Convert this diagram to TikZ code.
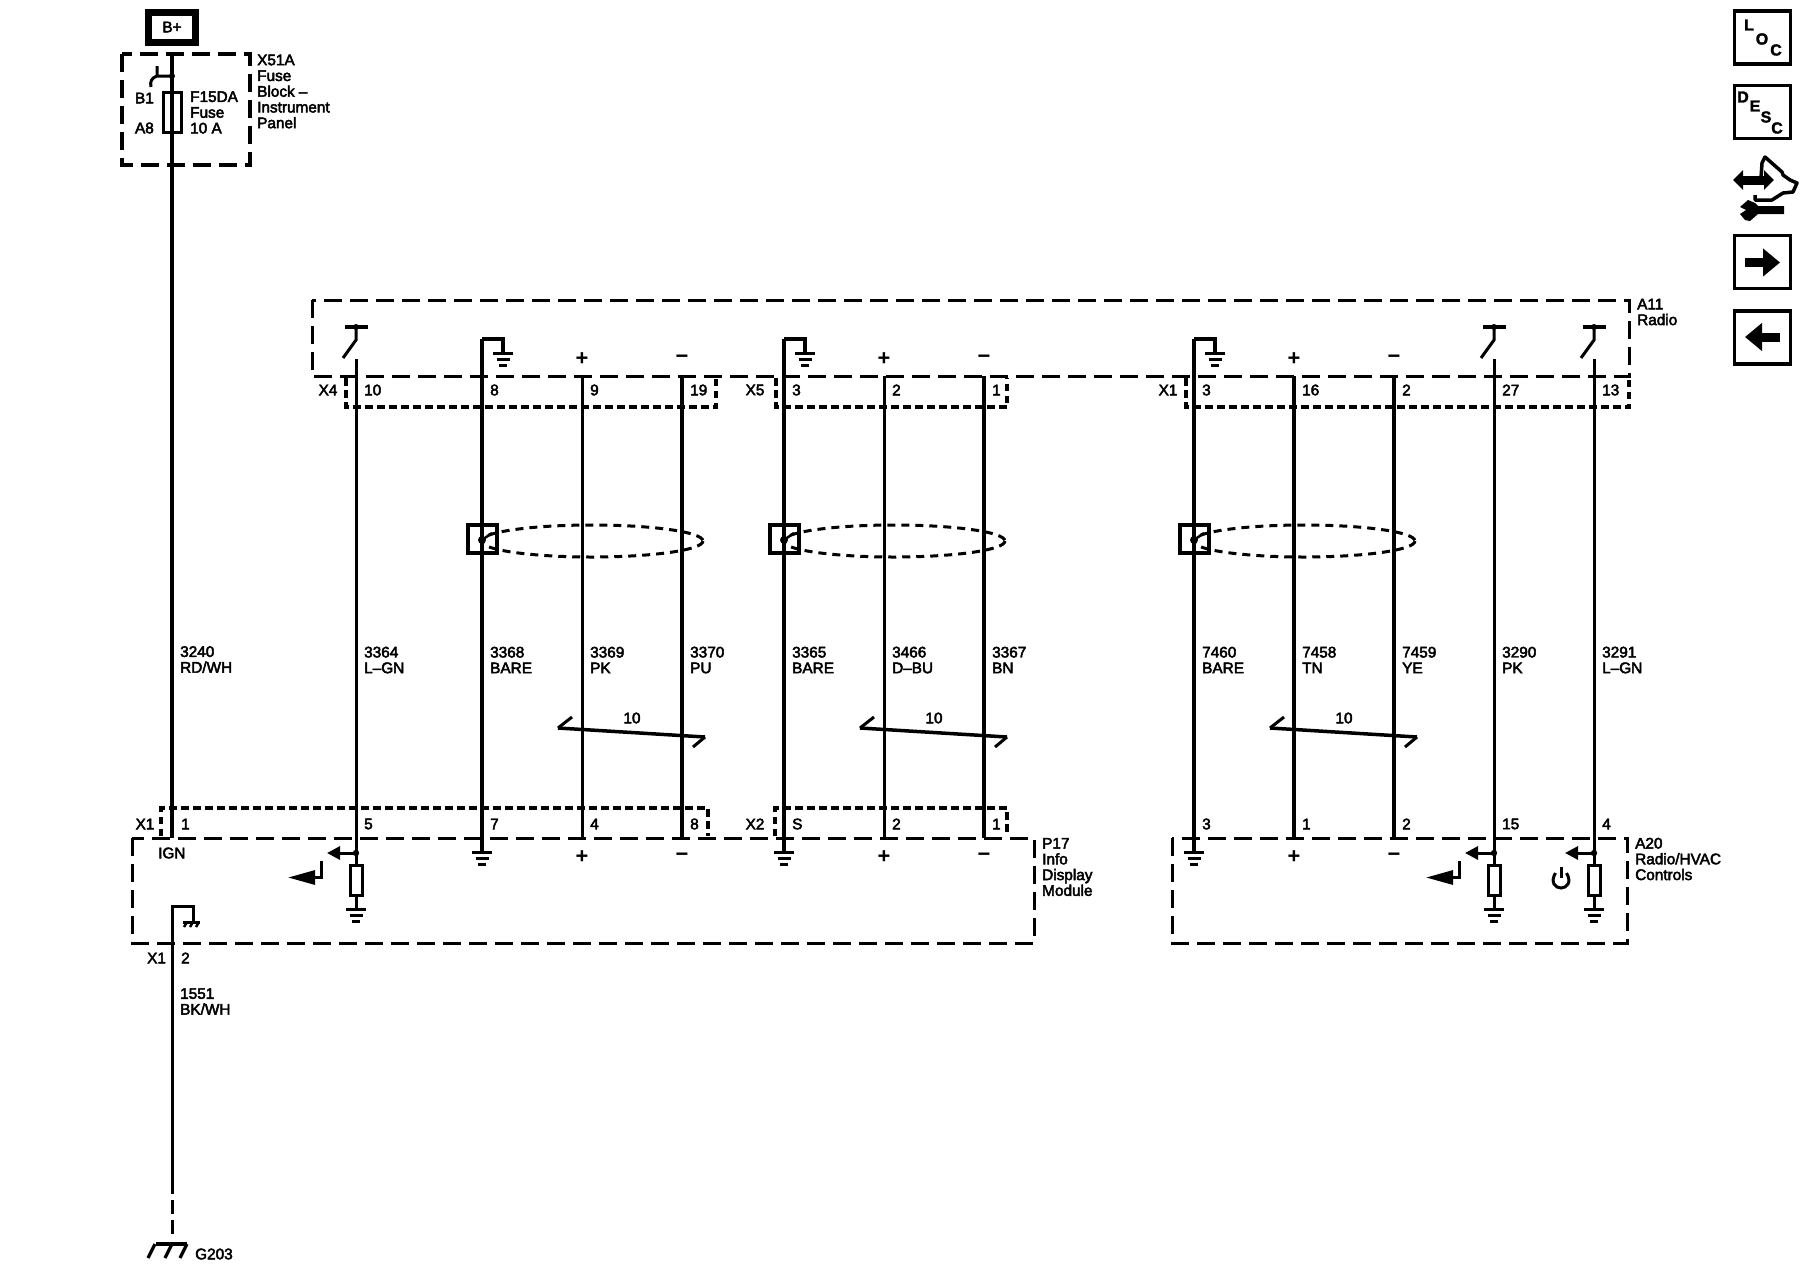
\documentclass[tikz,border=0pt]{standalone}
\usepackage{fontspec}
\setmainfont{Liberation Sans}
\newfontfamily\wirefont{Liberation Sans}[FakeBold=3]
\newfontfamily\iconfont{Liberation Sans Bold}[FakeBold=2]
\usetikzlibrary{arrows.meta}
\tikzset{
  txt/.style={inner sep=0pt,anchor=west,align=left,font={\wirefont\fontsize{15.4}{15.8}\selectfont}},
  signtxt/.style={inner sep=0pt,font={\bfseries\fontsize{22}{22}\selectfont}},
  icontxt/.style={inner sep=0pt,font={\iconfont\fontsize{16}{16}\selectfont}},
  modbox/.style={line width=3bp,dash pattern=on 18bp off 8bp},
  dotbox/.style={line width=4bp,dash pattern=on 7.5bp off 4.5bp},
  shieldline/.style={line width=3bp,dash pattern=on 8bp off 6bp},
  iconbox/.style={draw,line width=3.5bp,minimum width=56bp,minimum height=53bp,inner sep=0pt},
  resbox/.style={draw,line width=3bp,fill=white,minimum width=12bp,minimum height=30bp,inner sep=0pt},
  gndline/.style={line width=3bp},
  sigarrow/.style={line width=3bp,-{Triangle[length=13bp,width=13bp]}},
  retarrow/.style={line width=3bp,-{Triangle[length=27bp,width=14bp]}},
  gnd/.pic={
    \draw[gndline] (-10,0) -- (10,0);
    \draw[gndline] (-6.5,6.5) -- (6.5,6.5);
    \draw[gndline] (-4,12.5) -- (4,12.5);
  }
}
\begin{document}
\begin{tikzpicture}[x=1bp,y=-1bp]
\useasboundingbox (0,0) rectangle (1800,1280);
%
% B+ and fuse block
\node[draw,line width=7bp,minimum width=47bp,minimum height=30bp,inner sep=0pt,txt,anchor=center] (bplus) at (172,27) {B+};
\draw[modbox,line width=3.5bp] (122,54) rectangle (250,165);
\coordinate (fusetop) at (172,54);
\coordinate (ign) at (172,838);
\draw[line width=4bp] (fusetop) -- (ign);
\node[draw,line width=3bp,minimum width=18bp,minimum height=40bp,inner sep=0pt] (f15da) at (172,112) {};
\fill (172,76) circle (3);
\draw[line width=3bp] (172,76) -- (157,76) (157,66) -- (157,76) .. controls (151,78) and (150,82) .. (151,87);
\node[txt,anchor=east] (b1) at (154,98) {B1};
\node[txt,anchor=east] (a8) at (154,128) {A8};
\node[txt] (fusetxt) at (190,112.5) {F15DA\\Fuse\\10 A};
\node[txt] (x51a) at (257,91.5) {X51A\\Fuse\\Block –\\Instrument\\Panel};
\node[txt] (lab3240) at (180,659.5) {3240\\RD/WH};

% modules
\draw[modbox] (312,300) rectangle (1629,376);
\node[txt] (a11) at (1637,312) {A11\\Radio};
\draw[modbox] (132,838) rectangle (1034,943);
\node[txt] (p17) at (1042,867) {P17\\Info\\Display\\Module};
\draw[modbox] (1172,838) rectangle (1627,943);
\node[txt] (a20) at (1635,859) {A20\\Radio/HVAC\\Controls};

% connectors
\draw[dotbox] (346,378) -- (346,407) -- (716,407) -- (716,378);
\draw[dotbox] (776,378) -- (776,407) -- (1007,407) -- (1007,378);
\draw[dotbox] (1186,378) -- (1186,407) -- (1629,407) -- (1629,378);
\draw[dotbox] (161,836) -- (161,808) -- (708,808) -- (708,836);
\draw[dotbox] (775,836) -- (775,808) -- (1007,808) -- (1007,836);
\node[txt,anchor=center] (x4) at (328,390) {X4};
\node[txt,anchor=center] (x5) at (755,390) {X5};
\node[txt,anchor=center] (x1t) at (1168,390) {X1};
\node[txt,anchor=center] (x1b) at (145,824) {X1};
\node[txt,anchor=center] (x2) at (755,824) {X2};
\node[txt] (pin1) at (181,824) {1};
\node[txt] (ignlab) at (158,853) {IGN};

% wires
\foreach \code/\x/\ya/\yb/\lw/\col/\pa/\pb in {
  3364/356/359/865/3/L–GN/10/5,
  3368/482/339/852/4/BARE/8/7,
  3369/582/376/838/3/PK/9/4,
  3370/682/376/838/4/PU/19/8,
  3365/784/339/852/4/BARE/3/S,
  3466/884/376/838/3/D–BU/2/2,
  3367/984/376/838/4/BN/1/1,
  7460/1194/339/852/4/BARE/3/3,
  7458/1294/376/838/4/TN/16/1,
  7459/1394/376/838/4/YE/2/2,
  3290/1494/359/865/3/PK/27/15,
  3291/1594/359/865/3/L–GN/13/4} {
\coordinate (t\code) at (\x,\ya);
\coordinate (b\code) at (\x,\yb);
\draw[line width=\lw bp] (t\code) -- (b\code);
\node[txt] (lab\code) at (\x+8,660) {\code\\\col};
\node[txt] (pa\code) at (\x+8,390) {\pa};
\node[txt] (pb\code) at (\x+8,824) {\pb};
}

% shields
\foreach \dx in {0,302,712} {
\draw[line width=3.5bp] (468+\dx,525) rectangle (497+\dx,553);
\fill (482+\dx,540) circle (4);
\draw[line width=2.5bp] (482+\dx,540) -- (492+\dx,533);
\draw[shieldline] (592+\dx,541) ellipse [x radius=111,y radius=16];
\draw[line width=3.5bp] (558+\dx,728) -- (705+\dx,737);
\draw[line width=3bp] (558+\dx,728) -- (572+\dx,717);
\draw[line width=3bp] (705+\dx,737) -- (693+\dx,747);
\node[txt,anchor=center] (twist\dx) at (632+\dx,718) {10};
}

% grounded drains
\foreach \w/\x in {3368/482,3365/784,7460/1194} {
\draw[line width=3.5bp] (t\w) -- (\x+21,339) -- (\x+21,353);
\pic (gt\w) at (\x+21,353) {gnd};
\pic (gb\w) at (b\w) {gnd};
}

% serial data switches
\foreach \x in {356,1494,1594} {
\draw[line width=3.5bp] (\x-11,327) -- (\x+12,327);
\fill (\x,327) circle (3);
\draw[line width=3bp] (\x,327) -- (\x,340) -- (\x-13,358);
}

% signs
\foreach \x in {582,884,1294} {
\node[signtxt] (pt\x) at (\x,359) {+};
\node[signtxt] (pl\x) at (\x,857) {+};
}
\foreach \x in {682,984,1394} {
\node[signtxt] (mt\x) at (\x,359) {−};
\node[signtxt] (ml\x) at (\x,857) {−};
}

% pull down loads
\foreach \w/\x in {3364/356,3290/1494,3291/1594} {
\node[resbox] (r\w) at (\x,880.5) {};
\coordinate (rg\w) at (\x,909);
\draw[line width=3bp] (b\w) -- (r\w.north) (r\w.south) -- (rg\w);
\pic (gr\w) at (rg\w) {gnd};
\fill (\x,853) circle (3.2);
\draw[sigarrow] (\x,853) -- (\x-29,853);
}
\foreach \x in {356,1494} {
\draw[retarrow] (\x-35,861) -- (\x-35,877.5) -- (\x-68,877.5);
}
\draw[line width=3bp] (1561,867) -- (1561,878);
\draw[line width=3bp] (1566.5,873) .. controls (1572,882) and (1567,888) .. (1561,888) .. controls (1555,888) and (1550,882) .. (1555.5,873);

% chassis ground of the module
\node[txt] (x1c) at (147,958) {X1};
\node[txt] (pin2) at (181,958) {2};
\node[txt] (lab1551) at (180,1001.5) {1551\\BK/WH};
\coordinate (gtop) at (172,906);
\coordinate (gend) at (172,1180);
\coordinate (g203) at (172,1244);
\draw[line width=3bp] (gend) -- (gtop) -- (193,906) -- (193,922);
\draw[line width=3bp] (183,922) -- (200,922);
\foreach \x in {187,193,199} {
\draw[line width=2.5bp] (\x,922) -- (\x-3,927);
}
\draw[line width=3bp,dash pattern=on 14bp off 6bp] (gend) -- (172,1240);
\draw[line width=3.2bp] (g203) ++(-16,0) -- ++(31,0);
\foreach \x in {155,172,187} {
\draw[line width=3.2bp] (\x,1244) -- (\x-7,1258);
}
\node[txt] (g203lab) at (195,1254) {G203};

% icons
\node[iconbox] (loc) at (1762.5,37.5) {};
\node[icontxt] (locl) at (1749,25) {L};
\node[icontxt] (loco) at (1762,39) {O};
\node[icontxt] (locc) at (1776,50) {C};
\node[iconbox] (desc) at (1762.5,112) {};
\node[icontxt] (descd) at (1743,97) {D};
\node[icontxt] (desce) at (1755,106) {E};
\node[icontxt] (descs) at (1766,117) {S};
\node[icontxt] (descc) at (1777,128) {C};
\draw[line width=9bp,{Triangle[length=10bp,width=19bp]}-{Triangle[length=10bp,width=19bp]}] (1733,180) -- (1774,180);
\draw[line width=3.5bp,line join=round] (1761,178) -- (1762,163) -- (1765,157) -- (1782,172) -- (1783,175) -- (1790,180) -- (1797,183) -- (1793,192) -- (1783,193) -- (1772,200) -- (1755,200) -- (1755,195);
\fill (1740,207) -- (1748,200) -- (1755,203) -- (1758,206) -- (1784,206) -- (1784,214) -- (1758,214) -- (1750,221) -- (1745,220) -- (1740,214) -- (1746,210) -- cycle;
\node[iconbox] (fwd) at (1762.5,262) {};
\draw[line width=9bp,-{Triangle[length=17bp,width=27bp]}] (1745,262.5) -- (1780,262.5);
\node[iconbox] (back) at (1762.5,337.5) {};
\draw[line width=9bp,-{Triangle[length=17bp,width=27bp]}] (1780,337) -- (1745,337);
\end{tikzpicture}
\end{document}
